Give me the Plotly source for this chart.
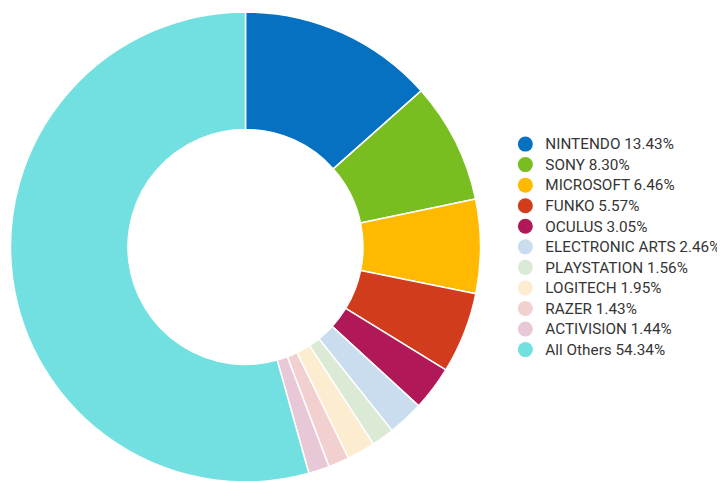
import plotly.graph_objects as go

brands = ["NINTENDO", "SONY", "MICROSOFT", "FUNKO", "OCULUS", "ELECTRONIC ARTS",
          "PLAYSTATION", "LOGITECH", "RAZER", "ACTIVISION", "All Others"]
shares = [13.43, 8.30, 6.46, 5.57, 3.05, 2.46, 1.56, 1.95, 1.43, 1.44, 54.34]
colors = ["#0571c0", "#78be20", "#ffb900", "#d03c1c", "#b01858", "#c9ddef",
          "#dbead5", "#fdedd0", "#f2d0d0", "#e8c8d6", "#72e0e0"]

labels = [f"{b} {v:.2f}%" for b, v in zip(brands, shares)]

fig = go.Figure()
fig.add_trace(go.Pie(
    labels=labels, values=shares, sort=False, direction="clockwise", rotation=0,
    hole=0.5, textinfo="none", showlegend=False,
    marker=dict(colors=colors, line=dict(color="white", width=1.5)),
    domain=dict(x=[2.5/725, 472.5/725], y=[7/481, 477/481]),
))
for lab, col in zip(labels, colors):
    fig.add_trace(go.Scatter(x=[None], y=[None], mode="markers",
                             name=f'<span style="font-size:15.3px">{lab}</span>',
                             marker=dict(color=col, size=15, symbol="circle"),
                             showlegend=True))

fig.update_layout(
    width=725, height=481, margin=dict(l=0, r=0, t=0, b=0),
    paper_bgcolor="white", plot_bgcolor="white",
    xaxis=dict(visible=False), yaxis=dict(visible=False),
    legend=dict(x=0.686, y=0.5025, xanchor="left", yanchor="middle",
                font=dict(family="Roboto", size=13.5, color="#353535"),
                itemsizing="trace", bgcolor="rgba(0,0,0,0)"),
)
fig.write_html("out.html")
